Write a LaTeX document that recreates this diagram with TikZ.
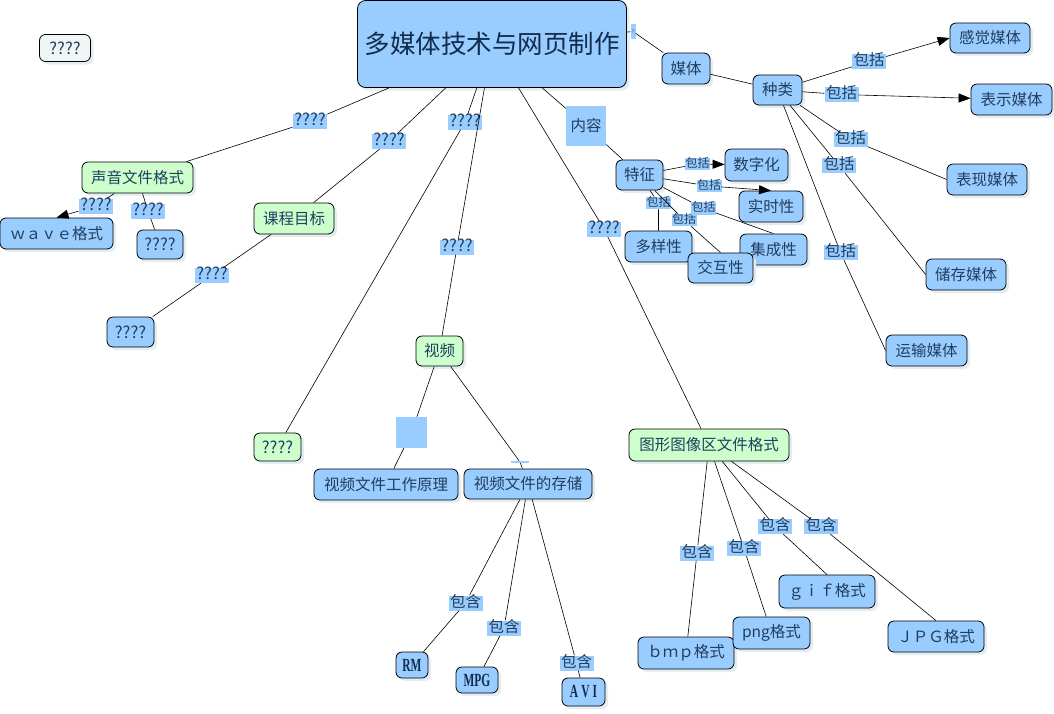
\documentclass[tikz,border=0pt]{standalone}
\usepackage{fontspec}
\setmainfont{Noto Sans CJK SC}
\newfontfamily\serifcond[FakeStretch=0.62]{Liberation Serif}
\newcommand\qqq{{\fontsize{16.5}{16}\selectfont ????}}
\usetikzlibrary{arrows.meta,shadows}
\definecolor{nb}{RGB}{153,204,255}
\definecolor{ng}{RGB}{204,255,204}
\definecolor{ngray}{RGB}{240,245,245}
\definecolor{txt}{RGB}{34,62,94}
\definecolor{txtd}{RGB}{18,44,78}
\definecolor{shd}{RGB}{228,238,242}
\tikzset{
 sz/.style 2 args={minimum width=#1pt, minimum height=#2pt},
 box/.style={draw=black, line width=0.8pt, rounded corners=6pt, fill=nb, text=txt, inner sep=0pt,
   font=\fontsize{15.5}{18}\selectfont,
   drop shadow={shadow xshift=3pt, shadow yshift=-3pt, fill=shd, opacity=1}},
 gbox/.style={box, fill=ng},
 sbox/.style={box, font=\serifcond\bfseries\fontsize{18.5}{19}\selectfont, text=txtd},
 lbl/.style={fill=nb, text=txt, inner xsep=1.5pt, inner ysep=0.5pt,
   font=\fontsize{15.5}{15}\selectfont, text height=11pt, text depth=3pt},
 slbl/.style={lbl, font=\fontsize{12}{12}\selectfont, text height=9pt, text depth=2.5pt, inner xsep=0.5pt},
 con/.style={draw=black, line width=0.6pt},
 arr/.style={con, -{Triangle[length=12pt,width=9pt]}},
}
\begin{document}
\begin{tikzpicture}[x=1pt,y=-1pt]
\useasboundingbox[fill=white] (0,0) rectangle (1054,713);

% nodes
\node[box, fill=ngray, sz={51}{27}] (q0) at (65,48) {\qqq};
\node[box, sz={269}{87}, rounded corners=8pt, text=txtd, font=\fontsize{25.5}{28}\selectfont] (main) at (492,44) {多媒体技术与网页制作};
\node[box, sz={48}{31}] (mt) at (686,68.5) {媒体};
\node[box, sz={49}{30}] (zl) at (777.5,90) {种类};
\node[box, sz={80}{30}] (gj) at (990,38) {感觉媒体};
\node[box, sz={81}{31}] (bs) at (1011.5,99.5) {表示媒体};
\node[box, sz={80}{31}] (bx) at (987,179.5) {表现媒体};
\node[box, sz={80}{31}] (cc) at (966,274.5) {储存媒体};
\node[box, sz={81}{31}] (ys) at (926.5,350.5) {运输媒体};
\node[fill=nb, text=txt, sz={40}{40}, inner sep=0pt, font=\fontsize{15.5}{15}\selectfont] (nr) at (586,126) {内容};
\node[box, sz={47}{30}] (tz) at (639.5,175) {特征};
\node[box, sz={63}{32}] (szh) at (756.5,165) {数字化};
\node[box, sz={64}{31}] (ss) at (771,206.5) {实时性};
\node[box, sz={67}{31}] (dy) at (658.5,246.5) {多样性};
\node[box, sz={67}{31}] (jc) at (773.5,249.5) {集成性};
\node[box, sz={65}{30}] (jh) at (720.5,268) {交互性};
\node[gbox, sz={111}{31}] (sy) at (137.5,177.5) {声音文件格式};
\node[box, sz={113}{31}] (wave) at (56.5,233.5) {ｗａｖｅ格式};
\node[box, sz={46}{29}] (q1) at (160,244.5) {\qqq};
\node[gbox, sz={80}{31}] (kc) at (294,218.5) {课程目标};
\node[box, sz={47}{30}] (q2) at (130.5,332) {\qqq};
\node[gbox, sz={47}{28}] (q3) at (277.5,447) {\qqq};
\node[gbox, sz={47}{30}] (sp) at (439.5,351) {视频};
\node[box, sz={144}{31}] (yl) at (386,484.5) {视频文件工作原理};
\node[box, sz={128}{30}] (cz) at (528,484) {视频文件的存储};
\node[sbox, sz={32}{26}] (rm) at (412,665) {RM};
\node[sbox, sz={42}{26}] (mpg) at (477,680) {MPG};
\node[sbox, sz={43}{28}] (avi) at (583.5,692) {A\,V\,I};
\node[gbox, sz={160}{32}] (tx) at (709,445) {图形图像区文件格式};
\node[box, sz={96}{32}] (bmp) at (686,653) {ｂｍｐ格式};
\node[box, sz={77}{32}] (png) at (771.5,633) {png格式};
\node[box, sz={96}{33}] (gif) at (827,591.5) {ｇｉｆ格式};
\node[box, sz={96}{31}] (jpg) at (936,636.5) {ＪＰＧ格式};

% linking labels
\node[lbl] (l1) at (310,121.5) {\qqq};
\node[lbl] (l2) at (389,141.5) {\qqq};
\node[lbl] (l3) at (465,122) {\qqq};
\node[lbl] (l4) at (457,247) {\qqq};
\node[lbl] (l5) at (604,229) {\qqq};
\node[fill=nb, text=txt, sz={5}{15}, inner sep=0pt, font=\fontsize{5}{5}\selectfont] (l6) at (633,31.5) {?};
\node[lbl] (l7) at (212,275.5) {\qqq};
\node[lbl] (l8) at (96,206) {\qqq};
\node[lbl] (l9) at (148,211) {\qqq};
\node[lbl] (a1) at (869,61.5) {包括};
\node[lbl] (a2) at (841.5,94.5) {包括};
\node[lbl] (a3) at (850.5,139.5) {包括};
\node[lbl] (a4) at (839,165.5) {包括};
\node[lbl] (a5) at (840.5,252.5) {包括};
\node[slbl] (b1) at (697.5,164) {包括};
\node[slbl] (b2) at (709,186) {包括};
\node[slbl] (b3) at (658.5,203) {包括};
\node[slbl] (b4) at (684,220) {包括};
\node[slbl] (b5) at (703.5,208.5) {包括};
\node[fill=nb, sz={31}{31}, inner sep=0pt] (sq) at (411.5,432.5) {};
\node[fill=nb, sz={18}{2}, inner sep=0pt] (bar) at (520,462) {};
\node[lbl] (c1) at (465.5,603) {包含};
\node[lbl] (c2) at (504,628) {包含};
\node[lbl] (c3) at (576.5,663) {包含};
\node[lbl] (d1) at (697,553) {包含};
\node[lbl] (d2) at (744,548.5) {包含};
\node[lbl] (d3) at (775,526.5) {包含};
\node[lbl] (d4) at (821,526.5) {包含};

% connectors
\draw[con] (main) -- (l1) -- (sy);
\draw[con] (main) -- (l2) -- (kc);
\draw[con] (main) -- (l3) -- (q3);
\draw[con] (main) -- (l4) -- (sp);
\draw[con] (main) -- (l5) -- (tx);
\draw[con] (main) -- (l6) -- (mt);
\draw[con] (main) -- (nr) -- (tz);
\draw[con] (kc) -- (l7) -- (q2);
\draw[con] (sy) -- (l8);
\draw[arr] (l8) -- (wave.north);
\draw[con] (sy) -- (l9) -- (q1);
\draw[con] (mt) -- (zl);
\draw[con] (zl) -- (a1); \draw[arr] (a1) -- (gj.west);
\draw[con] (zl) -- (a2); \draw[arr] (a2) -- (bs);
\draw[con] (zl) -- (a3) -- (bx.west);
\draw[con] (zl) -- (a4) -- (cc.west);
\draw[con] (zl) -- (a5) -- (ys.west);
\draw[con] (tz) -- (b1); \draw[arr] (b1) -- (szh);
\draw[con] (tz) -- (b2); \draw[arr] (b2) -- (ss.north);
\draw[con] (tz) -- (b3) -- (dy);
\draw[con] (tz) -- (b4) -- (jh.north);
\draw[con] (tz) -- (b5) -- (jc.north);
\draw[con] (sp) -- (sq) -- (yl);
\draw[con] (sp) -- (bar) -- (cz);
\draw[con] (cz) -- (c1) -- (rm);
\draw[con] (cz) -- (c2) -- (mpg);
\draw[con] (cz) -- (c3) -- (avi);
\draw[con] (tx) -- (d1) -- (bmp);
\draw[con] (tx) -- (d2) -- (png);
\draw[con] (tx) -- (d3) -- (gif.north);
\draw[con] (tx) -- (d4) -- (jpg.north);
\end{tikzpicture}
\end{document}
